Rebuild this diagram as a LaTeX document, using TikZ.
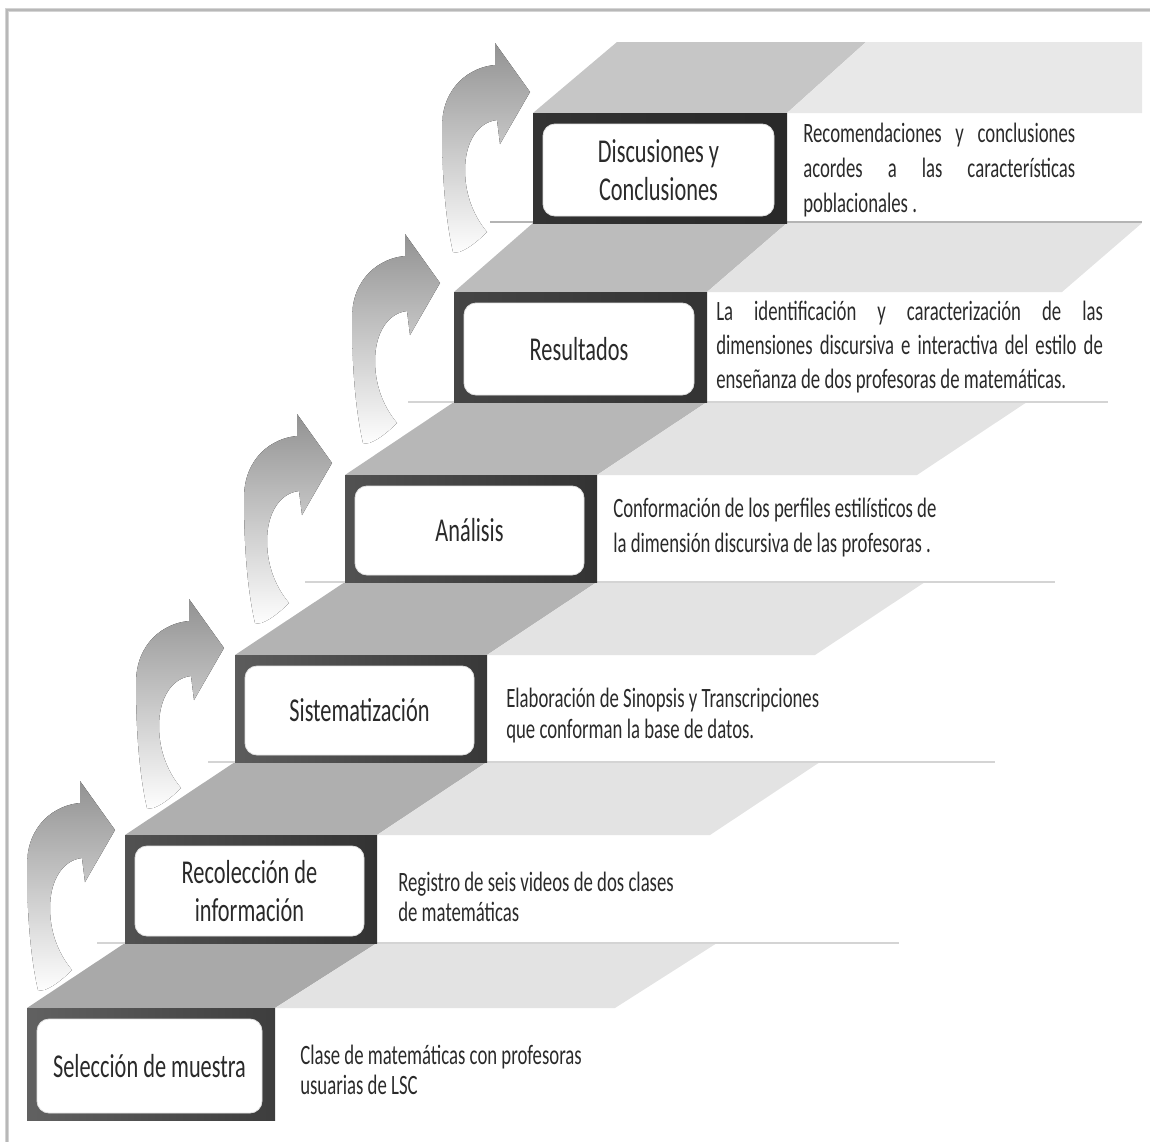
\documentclass[tikz,border=0pt]{standalone}
\usepackage{fontspec}
\setmainfont{Carlito}[FakeStretch=0.67]

% palette
\definecolor{txt}{HTML}{2A2A2A}
\definecolor{frameline}{HTML}{B8B8B8}
\definecolor{rule}{HTML}{D4D4D4}
\definecolor{treadA}{HTML}{A9A9A9}
\definecolor{treadB}{HTML}{AFAFAF}
\definecolor{treadC}{HTML}{B3B3B3}
\definecolor{treadD}{HTML}{B7B7B7}
\definecolor{treadE}{HTML}{BCBCBC}
\definecolor{treadF}{HTML}{C6C6C6}
\definecolor{treadlight}{HTML}{E3E3E3}
\definecolor{treadtop}{HTML}{E8E8E8}
\definecolor{arrowtop}{HTML}{929292}

\newcommand\stagefont{\fontsize{25pt}{28.5pt}\selectfont}
\newcommand\notefont[1]{\fontsize{21pt}{#1}\selectfont}

% curved arrow that rises on the left of a step; #1 is its tip
\newcommand\turnarrow[1]{%
  \fill[top color=arrowtop, bottom color=white, shift={#1}]
    (-35,-27) .. controls (-60,-25) and (-88,-5) .. (-88,35)
    .. controls (-88,80) and (-85,125) .. (-77,160)
    .. controls (-70,163) and (-55,152) .. (-43,140)
    .. controls (-58,122) and (-65,100) .. (-65,78)
    .. controls (-65,50) and (-52,30) .. (-33,28)
    -- (-30,52) -- (0,0) -- (-35,-49) -- cycle;}

\begin{document}
\begin{tikzpicture}[x=0.75pt,y=-0.75pt,
  stagelabel/.style 2 args={fill=white, draw=black!12, line width=0.6pt,
    rounded corners=9pt,
    minimum width=#1*0.75pt, minimum height=#2*0.75pt, inner sep=0pt,
    align=center, text=txt, font=\stagefont},
  stagenote/.style={inner sep=0pt, align=left, text=txt, anchor=west},
  riser/.style={rule, line width=1.6pt}]

\useasboundingbox (0,0) rectangle (1150,1142);

% page frame
\draw[frameline!60, line width=2.4pt] (7,1142) -- (7,10) -- (1150,10);
\draw[frameline, line width=0.9pt] (7,1142) -- (7,10) -- (1150,10);

% rising arrows
\turnarrow{(115,830)}
\turnarrow{(224,648)}
\turnarrow{(332,463)}
\turnarrow{(440,283)}
\turnarrow{(530,92)}

% treads: darker part above each box, lighter part running to the right
\fill[treadA] (27,1008) -- (275,1008) -- (377,943) -- (125,943) -- cycle;
\fill[treadlight] (275,1008) -- (615,1008) -- (717,943) -- (377,943) -- cycle;
\fill[treadB] (125,835) -- (377,835) -- (487,762) -- (235,762) -- cycle;
\fill[treadlight] (377,835) -- (710,835) -- (820,762) -- (487,762) -- cycle;
\fill[treadC] (235,655) -- (487,655) -- (597,582) -- (345,582) -- cycle;
\fill[treadlight] (487,655) -- (815,655) -- (925,582) -- (597,582) -- cycle;
\fill[treadD] (345,475) -- (597,475) -- (707,402) -- (454,402) -- cycle;
\fill[treadlight] (597,475) -- (917,475) -- (1027,402) -- (707,402) -- cycle;
\fill[treadE] (454,292) -- (707,292) -- (787,223) -- (533,223) -- cycle;
\fill[treadlight] (707,292) -- (1062,292) -- (1142,223) -- (787,223) -- cycle;
\fill[treadF] (533,113) -- (787,113) -- (866,42) -- (617,42) -- cycle;
\fill[treadtop] (787,113) -- (1142,113) -- (1142,42) -- (866,42) -- cycle;

% ground lines of each level
\coordinate (g2a) at (97,943);   \coordinate (g2b) at (899,943);
\coordinate (g3a) at (208,762);  \coordinate (g3b) at (995,762);
\coordinate (g4a) at (305,582);  \coordinate (g4b) at (1055,582);
\coordinate (g5a) at (408,402);  \coordinate (g5b) at (1108,402);
\coordinate (g6a) at (490,222);  \coordinate (g6b) at (1142,222);
\draw[riser] (g2a) -- (g2b);
\draw[riser] (g3a) -- (g3b);
\draw[riser] (g4a) -- (g4b);
\draw[riser] (g5a) -- (g5b);
\draw[riser, rule!85!black] (g6a) -- (g6b);

% dark step blocks
\fill[left color=black!62, right color=black!76] (27,1008) rectangle (275,1120);
\fill[left color=black!68, right color=black!80] (125,835) rectangle (377,943);
\fill[left color=black!64, right color=black!78] (235,655) rectangle (487,762);
\fill[left color=black!68, right color=black!80] (345,475) rectangle (597,582);
\fill[left color=black!73, right color=black!80] (454,292) rectangle (707,402);
\fill[left color=black!80, right color=black!84] (533,113) rectangle (787,223);

% step names
\node[stagelabel={225}{94}] (s1) at (149.5,1066) {Selección de muestra};
\node[stagelabel={229}{90}] (s2) at (249.5,891) {Recolección de\\información};
\node[stagelabel={229}{89}] (s3) at (359.5,710.5) {Sistematización};
\node[stagelabel={229}{89}] (s4) at (469.5,530.5) {Análisis};
\node[stagelabel={230}{92}] (s5) at (579,349) {Resultados};
\node[stagelabel={231}{92}] (s6) at (658.5,170) {Discusiones y\\Conclusiones};

% step descriptions
\node[stagenote, font={\notefont{22.5pt}}] (d1) at (300,1070)
  {Clase de matemáticas con profesoras\\usuarias de LSC};
\node[stagenote, font={\notefont{22.5pt}}] (d2) at (398,897)
  {Registro de seis videos de dos clases\\de matemáticas};
\node[stagenote, font={\notefont{23.25pt}}] (d3) at (506,715.5)
  {Elaboración de Sinopsis y Transcripciones\\que conforman la base de datos.};
\node[stagenote, font={\notefont{26.25pt}}] (d4) at (613,527.5)
  {Conformación de los perfiles estilísticos de\\la dimensión discursiva de las profesoras .};
\node[stagenote, font={\notefont{25.5pt}}] (d5) at (716,347)
  {\makebox[290pt][s]{La identificación y caracterización de las}\\
   \makebox[290pt][s]{dimensiones discursiva e interactiva del estilo de}\\
   enseñanza de dos profesoras de matemáticas.};
\node[stagenote, font={\notefont{26.25pt}}] (d6) at (803,170)
  {\makebox[204pt][s]{Recomendaciones y conclusiones}\\
   \makebox[204pt][s]{acordes a las características}\\
   poblacionales .};

\end{tikzpicture}
\end{document}
